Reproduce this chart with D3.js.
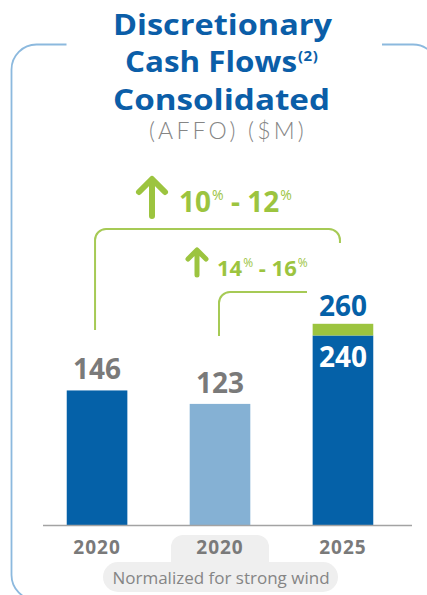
<!DOCTYPE html>
<html>
<head>
<meta charset="utf-8">
<script src="https://cdn.jsdelivr.net/npm/d3@7"></script>
<style>
  html, body { margin: 0; padding: 0; background: #ffffff; }
  svg { display: block; }
  text { font-family: "Open Sans", "DejaVu Sans", sans-serif; }
</style>
</head>
<body>
<svg id="chart" width="427" height="595"></svg>
<script>
// ---- data ----
const categories = ["2020", "2020 (normalized)", "2025"];
const tickLabels = ["2020", "2020", "2025"];
const baseValues = [146, 123, 240];
const rangeTop   = [null, null, 260];      // upper end of the 2025 target range
const growthLabels = [
  { lo: "10", hi: "12" },                  // 2020 -> 2025
  { lo: "14", hi: "16" }                   // normalized 2020 -> 2025
];
const footnote = "Normalized for strong wind";

// ---- palette ----
const darkBlue  = "#0561a8";
const lightBlue = "#85b1d4";
const green     = "#9cc43f";
const greyText  = "#7a7a7a";
const frameBlue = "#8cb9de";

const W = 427, H = 595;
const svg = d3.select("#chart");

// ---- frame ----
const fx0 = 11.5, fy0 = 44.5, fr = 25, fx1 = 438;
svg.append("path")
  .attr("d", `M66.5,${fy0} H${fx0 + fr} A${fr},${fr} 0 0 0 ${fx0},${fy0 + fr} V${H - 20} A${fr},${fr} 0 0 0 ${fx0 + fr},${H - 20 + fr}`)
  .attr("fill", "none").attr("stroke", frameBlue).attr("stroke-width", 1.8);
svg.append("path")
  .attr("d", `M382,${fy0} H${fx1 - fr} A${fr},${fr} 0 0 1 ${fx1},${fy0 + fr} V${H}`)
  .attr("fill", "none").attr("stroke", frameBlue).attr("stroke-width", 1.8);

// ---- title (wide bold face: glyphs stretched to the set line widths) ----
const titleFont = '"Liberation Sans", Arial, sans-serif';
const title = svg.append("g").attr("fill", "#0b5ea8").attr("font-weight", 700)
  .style("font-family", titleFont).attr("font-size", 29);
title.append("text").attr("x", 113).attr("y", 35)
  .attr("textLength", 219).attr("lengthAdjust", "spacingAndGlyphs").text("Discretionary");
title.append("text").attr("x", 125).attr("y", 72)
  .attr("textLength", 172).attr("lengthAdjust", "spacingAndGlyphs").text("Cash Flows");
title.append("text").attr("x", 298).attr("y", 61).attr("font-size", 15)
  .attr("letter-spacing", 0.5).text("(2)");
title.append("text").attr("x", 113).attr("y", 109.5)
  .attr("textLength", 217).attr("lengthAdjust", "spacingAndGlyphs").text("Consolidated");
svg.append("text").attr("x", 228).attr("y", 138.5).attr("text-anchor", "middle")
  .style("font-family", 'Lato, "Open Sans", sans-serif')
  .attr("font-size", 23).attr("font-weight", 300).attr("letter-spacing", 3.2)
  .attr("fill", "#858585").text("(AFFO) ($M)");

// ---- scales ----
const baseY = 525.5;
const x = d3.scaleBand().domain(categories).range([36, 404])
  .paddingInner(0.507).paddingOuter(0.25);
const y = d3.scaleLinear().domain([-85, 260]).range([baseY, 323.8]);
const cx = c => x(c) + x.bandwidth() / 2;

// ---- bars ----
const barColors = [darkBlue, lightBlue, darkBlue];
svg.append("g").selectAll("rect.base").data(categories).join("rect")
  .attr("class", "base")
  .attr("x", d => x(d)).attr("width", x.bandwidth())
  .attr("y", (d, i) => y(baseValues[i]))
  .attr("height", (d, i) => baseY - y(baseValues[i]))
  .attr("fill", (d, i) => barColors[i]);

// range extension on the 2025 bar
svg.append("g").selectAll("rect.range")
  .data(categories.map((c, i) => ({ c, lo: baseValues[i], hi: rangeTop[i] })).filter(d => d.hi != null))
  .join("rect")
  .attr("class", "range")
  .attr("x", d => x(d.c)).attr("width", x.bandwidth())
  .attr("y", d => y(d.hi)).attr("height", d => y(d.lo) - y(d.hi))
  .attr("fill", green);

// ---- axis baseline ----
svg.append("line").attr("x1", 43).attr("x2", 412).attr("y1", baseY).attr("y2", baseY)
  .attr("stroke", "#a3a3a3").attr("stroke-width", 1.6);

// ---- value labels ----
const vl = svg.append("g").attr("font-weight", 700).attr("font-size", 28).attr("text-anchor", "middle");
categories.forEach((c, i) => {
  if (rangeTop[i] == null) {
    vl.append("text").attr("x", cx(c)).attr("y", y(baseValues[i]) - 11)
      .attr("fill", greyText).text(baseValues[i]);
  } else {
    vl.append("text").attr("x", cx(c)).attr("y", y(rangeTop[i]) - 8)
      .attr("fill", darkBlue).text(rangeTop[i]);
    vl.append("text").attr("x", cx(c)).attr("y", y(baseValues[i]) + 32)
      .attr("fill", "#ffffff").text(baseValues[i]);
  }
});

// ---- footnote pill behind the normalized category ----
const c2 = cx(categories[1]);
const pill = svg.insert("g", "line").attr("fill", "#efefef");
pill.append("rect").attr("x", c2 - 49).attr("y", 535).attr("width", 98).attr("height", 40).attr("rx", 12);
pill.append("rect").attr("x", c2 - 117).attr("y", 562).attr("width", 235).attr("height", 30).attr("rx", 15);

// ---- category labels ----
svg.append("g").selectAll("text").data(categories).join("text")
  .attr("x", d => cx(d)).attr("y", 554).attr("text-anchor", "middle")
  .attr("font-size", 19).attr("font-weight", 700).attr("letter-spacing", 1)
  .attr("fill", greyText).text((d, i) => tickLabels[i]);
svg.append("text").attr("x", c2 + 1).attr("y", 584).attr("text-anchor", "middle")
  .attr("font-size", 17).attr("fill", "#858585").text(footnote);

// ---- growth brackets ----
const br = 11;
const bg = svg.append("g").attr("fill", "none").attr("stroke", "#a6ca55").attr("stroke-width", 2);
// 2020 -> 2025
const bx0 = cx(categories[0]) - 2, bx1 = cx(categories[2]) - 3, by = 229;
bg.append("path").attr("d",
  `M${bx0},330 V${by + br} A${br},${br} 0 0 1 ${bx0 + br},${by} H${bx1 - br} A${br},${br} 0 0 1 ${bx1},${by + br} V243`);
// normalized 2020 -> 2025
const sx0 = cx(categories[1]) - 1, sy = 292;
bg.append("path").attr("d",
  `M${sx0},336 V${sy + br} A${br},${br} 0 0 1 ${sx0 + br},${sy} H307`);

// ---- growth arrows + labels ----
function arrow(xc, top, bottom, half, sw) {
  svg.append("path")
    .attr("d", `M${xc},${bottom} V${top + 2} M${xc - half},${top + half} L${xc},${top} L${xc + half},${top + half}`)
    .attr("fill", "none").attr("stroke", green).attr("stroke-width", sw)
    .attr("stroke-linecap", "round").attr("stroke-linejoin", "round");
}
function growthText(x0, yb, big, small, lab) {
  const t = svg.append("text").attr("x", x0).attr("y", yb).attr("fill", green)
    .attr("font-weight", 700).attr("font-size", big);
  t.append("tspan").text(lab.lo);
  t.append("tspan").attr("font-size", small).attr("font-weight", 400).attr("dx", 1).attr("dy", -big * 0.42).text("%");
  t.append("tspan").attr("dy", big * 0.42).text(" - ");
  t.append("tspan").text(lab.hi);
  t.append("tspan").attr("font-size", small).attr("font-weight", 400).attr("dx", 1).attr("dy", -big * 0.42).text("%");
}
arrow(152, 179, 216, 13, 6);
growthText(179, 212, 28, 14, growthLabels[0]);
arrow(197, 250, 275, 9, 5);
growthText(217, 276, 22, 12, growthLabels[1]);
</script>
</body>
</html>
